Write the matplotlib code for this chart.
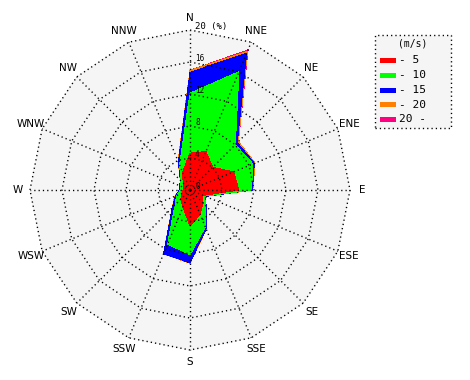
import numpy as np
import matplotlib
matplotlib.use("Agg")
import matplotlib.pyplot as plt
from matplotlib.patches import Rectangle, Polygon

# ---- data ----
directions = ["N", "NNE", "NE", "ENE", "E", "ESE", "SE", "SSE",
              "S", "SSW", "SW", "WSW", "W", "WNW", "NW", "NNW"]
speed_labels = ["- 5", "- 10", "- 15", "- 20", "20 -"]
colors = ["#ff0000", "#00ff00", "#0000ff", "#ff8000", "#ff0080"]

# frequency (%) per speed class for each direction
s_0_5   = [4.6, 5.2, 4.0, 5.9, 6.1, 1.75, 2.3, 3.3, 4.5, 2.3, 1.6, 1.1, 0.85, 0.9, 1.2, 2.4]
s_5_10  = [7.5, 10.8, 4.0, 2.6, 1.6, 0.25, 0.4, 1.7, 3.6, 5.0, 1.05, 0.7, 0.35, 0.4, 0.4, 1.0]
s_10_15 = [2.6, 2.5, 0.35, 0.2, 0.1, 0.1, 0.15, 0.25, 1.0, 1.3, 0.45, 0.2, 0.1, 0.1, 0.1, 0.4]
s_15_20 = [0.25, 0.25, 0.2, 0.1, 0.05, 0.0, 0.0, 0.05, 0.05, 0.05, 0.05, 0.05, 0.0, 0.0, 0.0, 0.1]
s_20_up = [0.0, 0.2, 0.0, 0.0, 0.0, 0.0, 0.0, 0.0, 0.0, 0.0, 0.0, 0.0, 0.0, 0.0, 0.0, 0.0]

ring_values = [4, 8, 12, 16, 20]
ring_labels = ["0", "4", "8", "12", "16", "20 (%)"]

# ---- figure ----
W, H, C = 470, 380, 190
S = 8.0  # px per percent
fig = plt.figure(figsize=(W / 100, H / 100), dpi=100)
ax = fig.add_axes([0, 0, 1, 1])
ax.set_xlim(-C / S, (W - C) / S)
ax.set_ylim(-(H - C) / S, C / S)
ax.axis("off")

theta = np.deg2rad(np.arange(len(directions)) * 22.5)

def poly(r):
    r = np.asarray(r, dtype=float)
    return np.column_stack([r * np.sin(theta), r * np.cos(theta)])

rmax = ring_values[-1]
ax.add_patch(Polygon(poly(np.full(16, rmax)), closed=True, facecolor="#f5f5f5",
                     edgecolor="none", antialiased=False, zorder=1))

cum = np.cumsum(np.array([s_0_5, s_5_10, s_10_15, s_15_20, s_20_up]), axis=0)
for i in range(len(cum) - 1, -1, -1):
    ax.add_patch(Polygon(poly(cum[i]), closed=True, facecolor=colors[i],
                         edgecolor="none", antialiased=False, zorder=2 + (4 - i) * 0.01))

dot = dict(color="black", lw=1.0, linestyle=(0, (0.9, 2.2)), antialiased=True,
           dash_capstyle="butt", zorder=5)
for r in ring_values:
    p = poly(np.full(16, r))
    p = np.vstack([p, p[:1]])
    ax.plot(p[:, 0], p[:, 1], **dot)
for t in theta:
    ax.plot([0, rmax * np.sin(t)], [0, rmax * np.cos(t)], **dot)

# ring labels
for v, lab in zip([0] + ring_values, ring_labels):
    ax.text(5 / S, v + 0.4, lab, fontsize=6.5 if v == rmax else 5.5, ha="left", va="center",
            family="DejaVu Sans Mono", zorder=6)

# direction labels
rl = 21.5
for t, d in zip(theta, directions):
    ax.text(rl * np.sin(t), rl * np.cos(t), d, fontsize=7.5, ha="center", va="center",
            family="DejaVu Sans", zorder=6)

# legend
def px(x, y):
    return (x - C) / S, (C - y) / S

lx0, ly0 = px(375, 128)
lx1, ly1 = px(451, 35)
ax.add_patch(Rectangle((lx0, ly0), lx1 - lx0, ly1 - ly0, facecolor="#f5f5f5",
                       edgecolor="black", lw=1.0, linestyle=(0, (0.9, 2.2)), zorder=6))
tx, ty = px(413, 44)
ax.text(tx, ty, "(m/s)", fontsize=7, ha="center", va="center", family="DejaVu Sans Mono", zorder=7)
rows = [60, 75, 90, 104.5, 119]
for yy, col, lab in zip(rows, colors, speed_labels):
    sx, sy = px(380, yy + 2.5)
    ax.add_patch(Rectangle((sx, sy), 16 / S, 5 / S, facecolor=col, edgecolor="none",
                           antialiased=False, zorder=7))
    tx, ty = px(399, yy)
    ax.text(tx, ty, lab, fontsize=8, ha="left", va="center", family="DejaVu Sans Mono", zorder=7)

fig.savefig("out.png", dpi=100)
